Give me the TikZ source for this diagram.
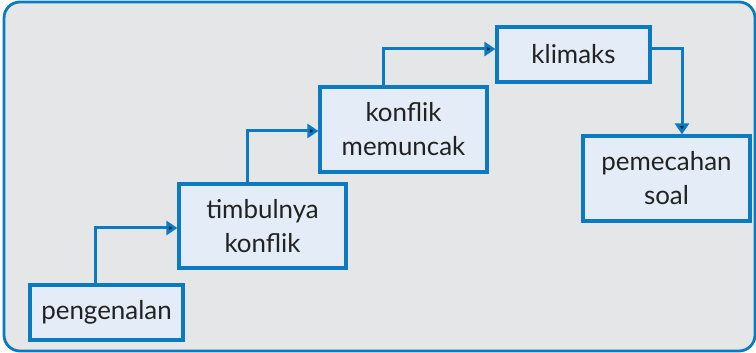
\documentclass[tikz,border=0pt]{standalone}
\usepackage{fontspec}
\setmainfont{Lato}
\usetikzlibrary{arrows.meta}
\definecolor{flowblue}{HTML}{0A7AC2}
\definecolor{boxfill}{HTML}{E4ECF7}
\definecolor{panelgray}{HTML}{E5E6E8}
\definecolor{inktext}{HTML}{222222}
\tikzset{
  stage/.style={draw=flowblue,line width=3.2bp,fill=boxfill,align=center,
    text=inktext,font=\fontsize{26}{34}\selectfont,inner sep=0pt},
  flow/.style={draw=flowblue,line width=3bp,
    -{Triangle[length=11bp,width=14bp,fill=inktext]}},
}
\begin{document}
\begin{tikzpicture}[line join=miter,]
\useasboundingbox (0bp,0bp) rectangle (756bp,353bp);
%%
\draw [draw=flowblue,fill=panelgray,line width=2.8bp,rounded corners=16bp] (4bp,2bp) rectangle (755bp,351bp);
%
\node (node_0) at (106.5bp,40.5bp) [stage,minimum width=153bp,minimum height=55bp] {pengenalan};
  \node (node_1) at (262.5bp,127bp) [stage,minimum width=167bp,minimum height=84bp] {timbulnya\\konflik};
  \node (node_2) at (403.5bp,223.5bp) [stage,minimum width=167bp,minimum height=85bp] {konflik\\memuncak};
  \node (node_3) at (573.5bp,298.5bp) [stage,minimum width=153bp,minimum height=55bp] {klimaks};
  \node (node_4) at (666.5bp,174.5bp) [stage,minimum width=167bp,minimum height=85bp] {pemecahan\\soal};
%
  \draw [flow] ([xshift=-11.5bp]node_0.north) |- ([yshift=-2bp]node_1.west);
  \draw [flow] ([xshift=-15.5bp]node_1.north) |- ([yshift=-1.5bp]node_2.west);
  \draw [flow] ([xshift=-20.5bp]node_2.north) |- ([yshift=5.5bp]node_3.west);
  \draw [flow] ([yshift=5.5bp]node_3.east) -| ([xshift=15.5bp]node_4.north);
%
\end{tikzpicture}
\end{document}
